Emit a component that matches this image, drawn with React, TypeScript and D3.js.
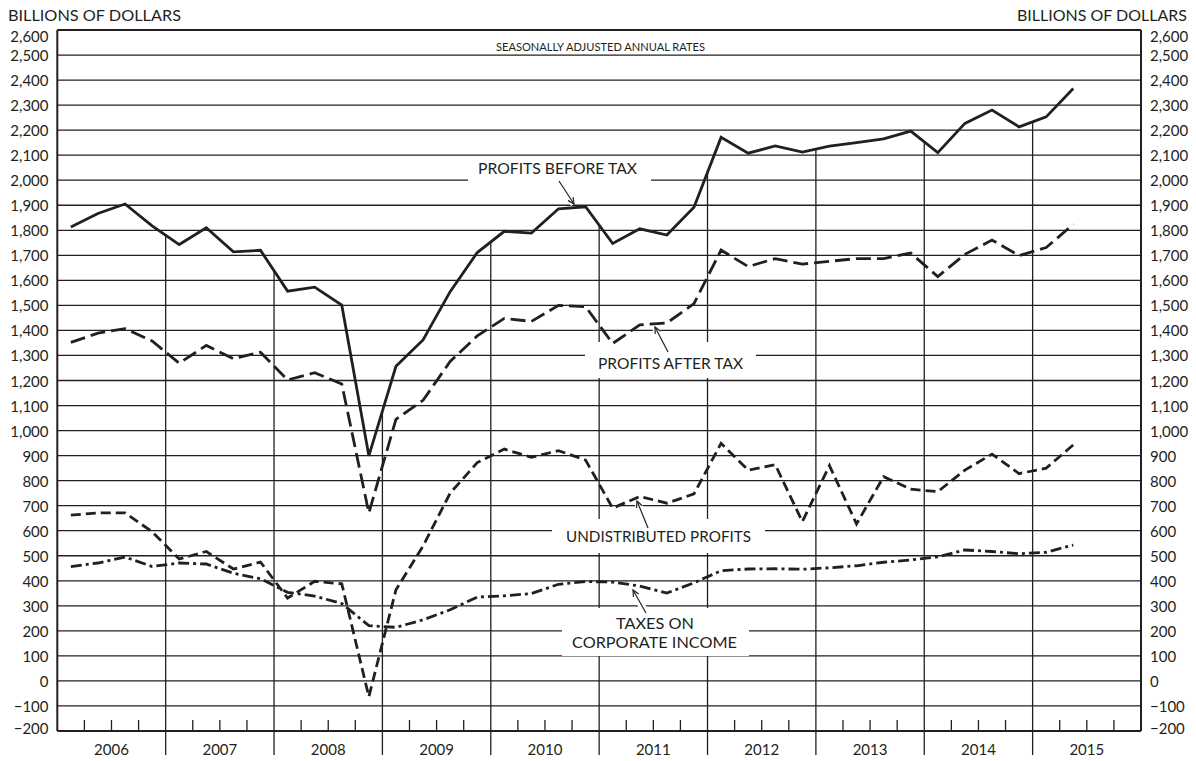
import React from "react";
import * as d3 from "d3";

// Quarterly data 2006Q1 .. 2015Q2 (billions of dollars, SAAR)
const years = [2006, 2007, 2008, 2009, 2010, 2011, 2012, 2013, 2014, 2015];
const yTicks = [-200, -100, 0, 100, 200, 300, 400, 500, 600, 700, 800, 900, 1000, 1100, 1200, 1300, 1400, 1500, 1600, 1700, 1800, 1900, 2000, 2100, 2200, 2300, 2400, 2500, 2600];

const profitsBeforeTax = [
  1813, 1867, 1905, 1818, 1743, 1810, 1714, 1720,
  1557, 1573, 1501, 899, 1257, 1362, 1555, 1711,
  1796, 1789, 1886, 1894, 1747, 1806, 1781, 1892,
  2171, 2108, 2137, 2112, 2136, 2150, 2165, 2196,
  2110, 2227, 2280, 2213, 2253, 2366,
];
const profitsAfterTax = [
  1352, 1389, 1407, 1358, 1269, 1340, 1287, 1313,
  1202, 1231, 1186, 671, 1045, 1121, 1276, 1378,
  1448, 1436, 1500, 1495, 1348, 1422, 1430, 1507,
  1721, 1655, 1687, 1665, 1676, 1687, 1687, 1709,
  1615, 1704, 1761, 1699, 1731, 1824,
];
const undistributedProfits = [
  662, 671, 671, 596, 487, 517, 447, 475,
  331, 398, 388, -63, 364, 539, 750, 872,
  926, 893, 920, 882, 690, 737, 710, 747,
  949, 842, 864, 636, 860, 627, 816, 766,
  756, 842, 906, 828, 850, 943,
];
const taxesOnCorporateIncome = [
  457, 471, 495, 457, 471, 467, 430, 408,
  354, 339, 309, 221, 214, 244, 284, 335,
  340, 349, 386, 397, 395, 379, 351, 392,
  440, 447, 448, 446, 452, 460, 474, 483,
  496, 523, 517, 508, 514, 543,
];

const FONT = "Lato, 'Open Sans', sans-serif";
const INK = "#231f20";

export default function App() {
  const W = 1196, H = 761;
  const left = 57.3, right = 1141, top = 30, bottom = 731;
  const x = d3.scaleLinear().domain([0, years.length * 4]).range([left, right]);
  const y = d3.scaleLinear().domain([-200, 2600]).range([bottom, top]);
  const fmt = d3.format(",");

  const line = d3
    .line<number>()
    .x((_, i) => x(i + 0.5))
    .y((d) => y(d));

  // value of profits before tax at a quarter boundary q (interpolated)
  const pbtAt = (q: number) => {
    const t = q - 0.5;
    const i0 = Math.max(0, Math.min(profitsBeforeTax.length - 1, Math.floor(t)));
    const i1 = Math.min(profitsBeforeTax.length - 1, i0 + 1);
    const f = t - i0;
    return profitsBeforeTax[i0] * (1 - f) + profitsBeforeTax[i1] * f;
  };

  const quarterTicks: number[] = [];
  years.forEach((_, k) => {
    [1, 2, 3].forEach((q) => quarterTicks.push(k * 4 + q));
  });

  const boxes = [
    { x0: 468, x1: 651, y0: 158, y1: 190 },
    { x0: 585, x1: 756, y0: 342, y1: 378 },
    { x0: 552, x1: 765, y0: 519, y1: 553 },
    { x0: 562, x1: 749, y0: 608, y1: 656 },
  ];

  const arrows = [
    { x1: 559, y1: 181, x2: 574, y2: 204 },
    { x1: 668, y1: 352, x2: 655, y2: 327 },
    { x1: 648, y1: 528, x2: 637, y2: 501 },
    { x1: 646, y1: 613, x2: 633, y2: 590 },
  ];

  const arrowHead = (a: { x1: number; y1: number; x2: number; y2: number }) => {
    const ang = Math.atan2(a.y2 - a.y1, a.x2 - a.x1);
    const L = 7, sp = 0.45;
    const p1 = [a.x2 - L * Math.cos(ang - sp), a.y2 - L * Math.sin(ang - sp)];
    const p2 = [a.x2 - L * Math.cos(ang + sp), a.y2 - L * Math.sin(ang + sp)];
    return `M${p1[0]},${p1[1]}L${a.x2},${a.y2}L${p2[0]},${p2[1]}`;
  };

  return (
    <svg width={W} height={H} viewBox={`0 0 ${W} ${H}`} style={{ display: "block", position: "absolute", left: 0, top: 0, background: "#fff" }}>
      <rect x={0} y={0} width={W} height={H} fill="#fff" />
      {/* horizontal gridlines */}
      {yTicks.map((v) => (
        <line key={"h" + v} x1={left} x2={right} y1={y(v)} y2={y(v)} stroke={INK} strokeWidth={v === 2600 || v === -200 ? 2 : 1.3} />
      ))}
      {/* year dividers: from below axis up to profits-before-tax line */}
      {years.slice(1).map((yr, k) => {
        const q = (k + 1) * 4;
        return (
          <line key={"v" + yr} x1={x(q)} x2={x(q)} y1={bottom + 24} y2={y(pbtAt(q))} stroke={INK} strokeWidth={1.3} />
        );
      })}
      {/* quarter ticks */}
      {quarterTicks.map((q) => (
        <line key={"q" + q} x1={x(q)} x2={x(q)} y1={bottom - 11} y2={bottom} stroke={INK} strokeWidth={1.3} />
      ))}
      {/* frame */}
      <line x1={left} x2={left} y1={top} y2={bottom} stroke={INK} strokeWidth={2} />
      <line x1={right} x2={right} y1={top} y2={bottom} stroke={INK} strokeWidth={2} />

      {/* label boxes */}
      {boxes.map((b, i) => (
        <rect key={"b" + i} x={b.x0} y={b.y0} width={b.x1 - b.x0} height={b.y1 - b.y0} fill="#fff" />
      ))}

      {/* arrows with white halo */}
      {arrows.map((a, i) => (
        <g key={"a" + i}>
          <line x1={a.x1} y1={a.y1} x2={a.x2} y2={a.y2} stroke="#fff" strokeWidth={7} />
          <line x1={a.x1} y1={a.y1} x2={a.x2} y2={a.y2} stroke={INK} strokeWidth={1.2} />
          <path d={arrowHead(a)} fill="none" stroke={INK} strokeWidth={1.2} />
        </g>
      ))}

      {/* series */}
      <path d={line(profitsBeforeTax) || ""} fill="none" stroke={INK} strokeWidth={2.8} strokeLinejoin="miter" />
      <path d={line(profitsAfterTax) || ""} fill="none" stroke={INK} strokeWidth={2.8} strokeDasharray="15 6" />
      <path d={line(undistributedProfits) || ""} fill="none" stroke={INK} strokeWidth={2.8} strokeDasharray="10 5" />
      <path d={line(taxesOnCorporateIncome) || ""} fill="none" stroke={INK} strokeWidth={2.8} strokeDasharray="11 4 3 4" />

      {/* axis labels */}
      <g fontFamily={FONT} fontSize={15} fill={INK}>
        {yTicks.map((v) => {
          const yy = v === 2600 ? y(v) + 6 : v === -200 ? y(v) - 3 : y(v);
          return (
            <g key={"t" + v}>
              <text x={48.5} y={yy} textAnchor="end" dominantBaseline="central">{fmt(v)}</text>
              <text x={1150} y={yy} textAnchor="start" dominantBaseline="central">{fmt(v)}</text>
            </g>
          );
        })}
        {years.map((yr, k) => (
          <text key={"y" + yr} x={x(k * 4 + 2)} y={755} textAnchor="middle">{yr}</text>
        ))}
        <text x={8} y={20.5} textLength={173} lengthAdjust="spacingAndGlyphs">BILLIONS OF DOLLARS</text>
        <text x={1017} y={20.5} textLength={170} lengthAdjust="spacingAndGlyphs">BILLIONS OF DOLLARS</text>
        <text x={478} y={174} textLength={159} lengthAdjust="spacingAndGlyphs">PROFITS BEFORE TAX</text>
        <text x={598} y={369} textLength={145} lengthAdjust="spacingAndGlyphs">PROFITS AFTER TAX</text>
        <text x={566} y={542} textLength={185} lengthAdjust="spacingAndGlyphs">UNDISTRIBUTED PROFITS</text>
        <text x={616} y={629} textLength={78} lengthAdjust="spacingAndGlyphs">TAXES ON</text>
        <text x={572} y={647.5} textLength={165} lengthAdjust="spacingAndGlyphs">CORPORATE INCOME</text>
        <text x={496} y={51} fontSize={10.5} textLength={209} lengthAdjust="spacingAndGlyphs">SEASONALLY ADJUSTED ANNUAL RATES</text>
      </g>
    </svg>
  );
}
